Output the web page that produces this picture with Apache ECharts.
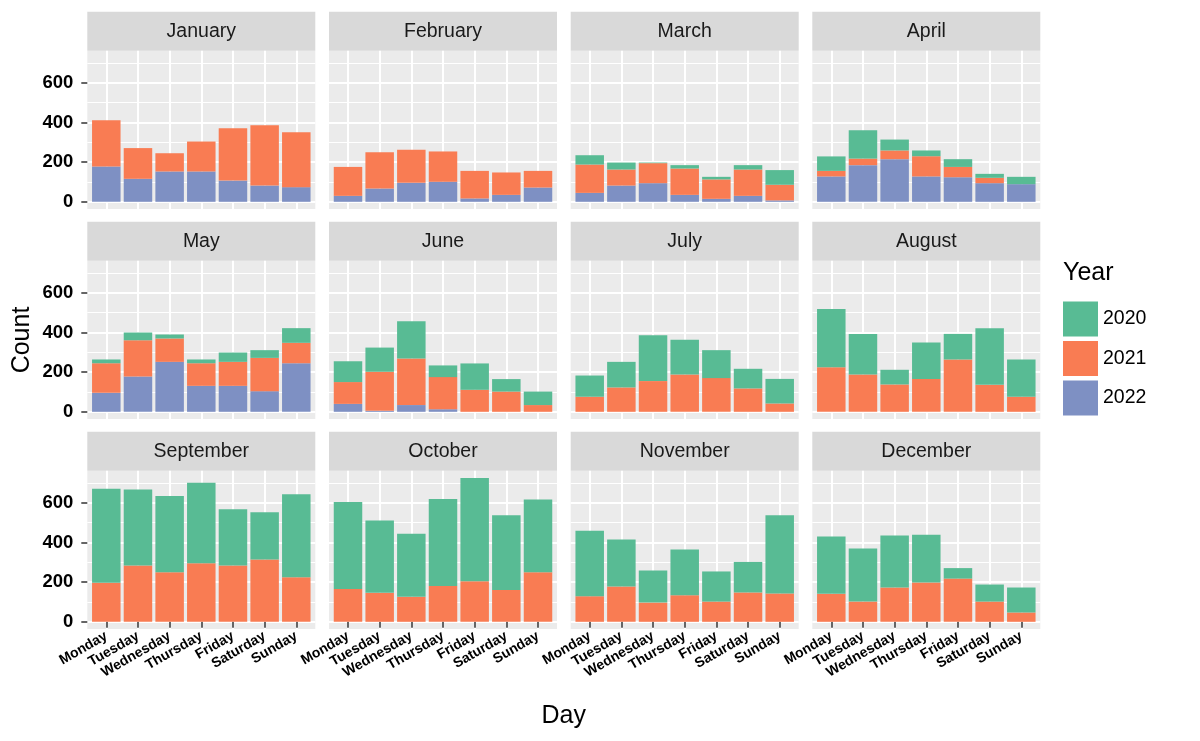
<!DOCTYPE html>
<html><head><meta charset="utf-8">
<script src="https://cdn.jsdelivr.net/npm/echarts@6.0.0/dist/echarts.min.js"></script>
<style>html,body{margin:0;padding:0;background:#fff}#c{width:1200px;height:741px}</style>
</head><body><div id="c"></div>
<script>
const months = ['January','February','March','April','May','June','July','August','September','October','November','December'];
const days = ['Monday','Tuesday','Wednesday','Thursday','Friday','Saturday','Sunday'];
const years = ['2020','2021','2022'];
const yTicks = [0, 200, 400, 600];
const yMinor = [100, 300, 500, 700];
const xTicks = [1, 2, 3, 4, 5, 6, 7];
// counts per month (rows) and weekday (cols)
const v2020 = [
  [0,0,0,0,0,0,0],
  [0,0,0,0,0,0,0],
  [47,35,3,17,13,22,74],
  [73,143,55,29,39,20,37],
  [19,39,20,19,47,39,74],
  [105,122,188,59,133,63,68],
  [107,129,231,175,141,99,124],
  [294,205,74,184,129,286,188],
  [474,383,385,406,284,239,419],
  [440,365,318,440,521,377,367],
  [330,237,162,231,152,154,395],
  [289,268,262,241,53,86,126]
];
const v2021 = [
  [234,155,92,151,264,304,277],
  [146,183,166,153,139,113,84],
  [143,81,101,133,98,133,79],
  [28,33,44,102,52,27,0],
  [149,183,118,114,121,168,103],
  [110,197,235,162,111,102,34],
  [76,123,155,188,170,118,42],
  [225,188,138,166,264,136,76],
  [197,284,250,296,284,314,225],
  [165,146,126,180,205,161,250],
  [129,178,97,134,102,148,143],
  [141,102,173,198,218,102,47]
];
const v2022 = [
  [178,116,153,153,107,82,74],
  [30,67,96,101,17,35,72],
  [45,82,94,35,15,30,7],
  [128,185,215,128,124,94,89],
  [96,178,252,131,131,104,245],
  [40,5,34,13,0,0,0],
  [0,0,0,0,0,0,0],
  [0,0,0,0,0,0,0],
  [0,0,0,0,0,0,0],
  [0,0,0,0,0,0,0],
  [0,0,0,0,0,0,0],
  [0,0,0,0,0,0,0]
];

const FONT = '"Liberation Sans", Arial, Helvetica, sans-serif';
const COLORS = {'2020':'#58BB94','2021':'#F97C53','2022':'#7E90C3'};
const L = [87.3, 329, 570.7, 812.3], W = 228;
const T = [50.7, 260.7, 470.7], H = 158.3;
const STRIP = 39;
const YMIN = -36.3, YMAX = 762.3;
const XMIN = 0.4, XMAX = 7.6;
const inset = W * (0.5 - XMIN) / (XMAX - XMIN);

const grids = [], xAxes = [], yAxes = [], series = [], graphics = [];
const byYear = {'2020': v2020, '2021': v2021, '2022': v2022};

months.forEach((m, i) => {
  const r = Math.floor(i / 4), c = i % 4;
  const bottom = r === 2, leftCol = c === 0;
  grids.push({left: L[c], top: T[r], width: W, height: H, show: true,
    backgroundColor: '#EBEBEB', borderWidth: 0});
  grids.push({left: L[c] + inset, top: T[r], width: W - 2 * inset, height: H, show: false});
  xAxes.push({gridIndex: 2 * i, type: 'value', min: XMIN, max: XMAX,
    axisLine: {show: false},
    axisTick: {show: bottom, customValues: xTicks, length: 6, lineStyle: {color: '#333', width: 1.5}},
    axisLabel: {show: bottom, customValues: xTicks, formatter: v => days[Math.round(v) - 1],
      rotate: 30, fontSize: 14, fontWeight: 'bold', color: '#000', margin: 6, fontFamily: FONT},
    splitLine: {show: true, lineStyle: {color: '#fff', width: 2}}
  });
  xAxes.push({gridIndex: 2 * i + 1, type: 'category', data: days, boundaryGap: true,
    axisLine: {show: false}, axisTick: {show: false}, axisLabel: {show: false}, splitLine: {show: false}});
  yAxes.push({gridIndex: 2 * i, type: 'value', min: YMIN, max: YMAX, position: 'left',
    axisLine: {show: false},
    axisTick: {show: leftCol, customValues: yTicks, length: 6, lineStyle: {color: '#333', width: 1.5}},
    axisLabel: {show: leftCol, customValues: yTicks, fontSize: 18.5, fontWeight: 'bold', color: '#000',
      margin: 14, fontFamily: FONT},
    splitLine: {show: true, lineStyle: {color: '#fff', width: 2}}
  });
  yAxes.push({gridIndex: 2 * i, type: 'value', min: YMIN, max: YMAX, position: 'right',
    axisLine: {show: false},
    axisTick: {show: false, customValues: yMinor},
    axisLabel: {show: false, customValues: yMinor},
    splitLine: {show: true, lineStyle: {color: '#fff', width: 1}}
  });
  yAxes.push({gridIndex: 2 * i + 1, type: 'value', min: YMIN, max: YMAX,
    axisLine: {show: false}, axisTick: {show: false}, axisLabel: {show: false}, splitLine: {show: false}});
  ['2022', '2021', '2020'].forEach(y => {
    series.push({type: 'bar', name: y, xAxisIndex: 2 * i + 1, yAxisIndex: 3 * i + 2, stack: 'p' + i,
      barWidth: '90%', itemStyle: {color: COLORS[y]}, silent: true,
      data: byYear[y][i]});
  });
  graphics.push({type: 'rect', shape: {x: L[c], y: T[r] - STRIP, width: W, height: STRIP},
    style: {fill: '#D9D9D9'}, silent: true});
  graphics.push({type: 'text', x: L[c] + W / 2, y: T[r] - STRIP / 2,
    style: {text: m, fontSize: 19.5, fontFamily: FONT, fill: '#1A1A1A',
      align: 'center', verticalAlign: 'middle', textAlign: 'center', textVerticalAlign: 'middle'}, silent: true});
});

graphics.push({type: 'text', x: 22, y: 340, rotation: Math.PI / 2,
  style: {text: 'Count', fontSize: 25, fontFamily: FONT, fill: '#000',
    align: 'center', verticalAlign: 'middle', textAlign: 'center', textVerticalAlign: 'middle'}});
graphics.push({type: 'text', x: 563.7, y: 716,
  style: {text: 'Day', fontSize: 25, fontFamily: FONT, fill: '#000',
    align: 'center', verticalAlign: 'middle', textAlign: 'center', textVerticalAlign: 'middle'}});
graphics.push({type: 'text', x: 1063, y: 273,
  style: {text: 'Year', fontSize: 25, fontFamily: FONT, fill: '#000',
    align: 'left', verticalAlign: 'middle', textAlign: 'left', textVerticalAlign: 'middle'}});

const chart = echarts.init(document.getElementById('c'), null, {renderer: 'canvas'});
chart.setOption({
  animation: false,
  backgroundColor: '#fff',
  grid: grids,
  xAxis: xAxes,
  yAxis: yAxes,
  legend: {data: years, orient: 'vertical', left: 1063, top: 301.5, icon: 'rect', padding: 0,
    itemWidth: 35, itemHeight: 35, itemGap: 4.5, selectedMode: false,
    textStyle: {fontSize: 19.5, fontFamily: FONT, color: '#000'}},
  graphic: graphics,
  series: series
});
</script>
</body></html>
